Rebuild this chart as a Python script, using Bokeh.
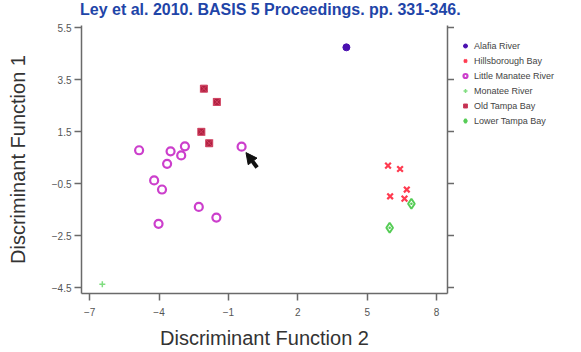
from bokeh.plotting import figure
from bokeh.models import (Legend, LegendItem, LinearAxis, FixedTicker,
                          Range1d, Arrow, NormalHead, Div)
from bokeh.layouts import row, column
from bokeh.embed import file_html
from bokeh.resources import INLINE

# ---- data ----
alafia_x = [4.10]
alafia_y = [4.74]

hills_x = [5.90, 6.42, 6.71, 5.99, 6.61]
hills_y = [0.19, 0.06, -0.73, -0.99, -1.08]

little_x = [-4.86, -3.50, -2.88, -3.04, -3.65, -0.43, -4.21, -3.87, -2.28, -1.52, -4.02]
little_y = [0.78, 0.74, 0.93, 0.58, 0.26, 0.92, -0.38, -0.73, -1.40, -1.81, -2.05]

manatee_x = [-6.45]
manatee_y = [-4.37]

oldtampa_x = [-2.06, -1.50, -2.17, -1.83]
oldtampa_y = [3.15, 2.64, 1.49, 1.05]

lower_x = [6.91, 5.97]
lower_y = [-1.28, -2.20]

series_names = ["Alafia River", "Hillsborough Bay", "Little Manatee River",
                "Monatee River", "Old Tampa Bay", "Lower Tampa Bay"]

x_ticks = [-7, -4, -1, 2, 5, 8]
y_ticks = [5.5, 3.5, 1.5, -0.5, -2.5, -4.5]

arrow_start = (0.24, 0.12)
arrow_end = (-0.24, 0.69)

title_text = "Ley et al. 2010. BASIS 5 Proceedings. pp. 331-346."
x_label = "Discriminant Function 2"
y_label = "Discriminant Function 1"

FONT = "Liberation Sans"
AXC = "#6a6a6a"
TITLE_H = 20
TOP = 25 - TITLE_H
BOTTOM = 59
FRAME_H = 268

styles = [
    dict(marker="circle", size=7, fill_color="#4a10b0", line_color="#4a10b0"),
    dict(marker="x", size=8, line_color="#ff3b50", line_width=2.2),
    dict(marker="circle", size=8, fill_color=None, line_color="#cc3fcc", line_width=2.2),
    dict(marker="cross", size=6, line_color="#80dd80", line_width=1.5),
    dict(marker="square_x", size=7, fill_color="#b02040", line_color="#d04060", line_width=1),
    dict(marker="diamond_dot", size=10, fill_color=None, line_color="#55cc55", line_width=2),
]
xs = [alafia_x, hills_x, little_x, manatee_x, oldtampa_x, lower_x]
ys = [alafia_y, hills_y, little_y, manatee_y, oldtampa_y, lower_y]

p = figure(frame_width=366, frame_height=FRAME_H, output_backend="svg", toolbar_location=None,
           x_range=Range1d(-7.35, 8.47), y_range=Range1d(-4.73, 5.58),
           x_axis_location=None, y_axis_location=None,
           min_border_left=81, min_border_right=0, min_border_top=TOP,
           min_border_bottom=BOTTOM)
p.outline_line_color = None
p.xgrid.visible = False
p.ygrid.visible = False
p.background_fill_color = "white"
p.border_fill_color = "white"

def style_axis(ax):
    ax.axis_line_color = AXC
    ax.axis_line_width = 1.5
    ax.major_tick_line_color = AXC
    ax.major_tick_line_width = 1.5
    ax.major_tick_out = 7
    ax.major_tick_in = 0
    ax.minor_tick_line_color = None
    ax.major_label_text_font = FONT
    ax.major_label_text_font_size = "10px"
    ax.major_label_text_color = "#555555"
    ax.axis_label_text_font = FONT
    ax.axis_label_text_font_style = "normal"
    ax.axis_label_text_font_size = "20px"
    ax.axis_label_text_color = "#333333"

xa = LinearAxis(ticker=FixedTicker(ticks=x_ticks), axis_label=x_label)
style_axis(xa)
xa.major_label_standoff = 7
xa.axis_label_standoff = 8
p.add_layout(xa, "below")

ya = LinearAxis(ticker=FixedTicker(ticks=y_ticks), axis_label=y_label)
style_axis(ya)
ya.major_label_standoff = 3
ya.axis_label_standoff = 20
ya.major_label_orientation = "horizontal"
p.add_layout(ya, "left")

ra = LinearAxis(ticker=FixedTicker(ticks=y_ticks))
style_axis(ra)
ra.major_label_text_font_size = "0px"
ra.major_label_text_alpha = 0
ra.major_label_standoff = 0
p.add_layout(ra, "right")

for xv, yv, st in zip(xs, ys, styles):
    p.scatter(xv, yv, **st)

p.add_layout(Arrow(end=NormalHead(size=11, fill_color="#111111", line_color="#111111"),
                   x_start=arrow_start[0], y_start=arrow_start[1],
                   x_end=arrow_end[0], y_end=arrow_end[1],
                   line_color="#111111", line_width=4))

# ---- legend panel (same series, off-range so only legend glyphs show) ----
lg = figure(width=126, frame_height=FRAME_H, output_backend="svg", toolbar_location=None,
            x_range=Range1d(100, 101), y_range=Range1d(100, 101),
            x_axis_location=None, y_axis_location=None,
            min_border_left=0, min_border_right=0, min_border_top=TOP,
            min_border_bottom=BOTTOM)
lg.outline_line_color = None
lg.xgrid.visible = False
lg.ygrid.visible = False
lg_renderers = [lg.scatter(xv, yv, **st) for xv, yv, st in zip(xs, ys, styles)]

legend = Legend(items=[LegendItem(label=n, renderers=[r]) for n, r in zip(series_names, lg_renderers)],
                location=(6, 167), orientation="vertical",
                label_text_font=FONT, label_text_font_size="9px", label_text_color="#444444",
                glyph_width=10, glyph_height=11, label_height=11, spacing=4,
                label_standoff=4, padding=0, margin=0,
                border_line_color=None, background_fill_alpha=0)
lg.add_layout(legend, "center")

title = Div(text=title_text, width=501, height=TITLE_H, margin=(0, 0, 0, 80),
            styles={"font-family": FONT, "font-size": "16px", "font-weight": "bold",
                    "color": "#1f45a8", "line-height": "20px", "white-space": "nowrap"})

layout = column(title, row(p, lg, spacing=0), spacing=0)
open("out.html", "w").write(file_html(layout, INLINE))
